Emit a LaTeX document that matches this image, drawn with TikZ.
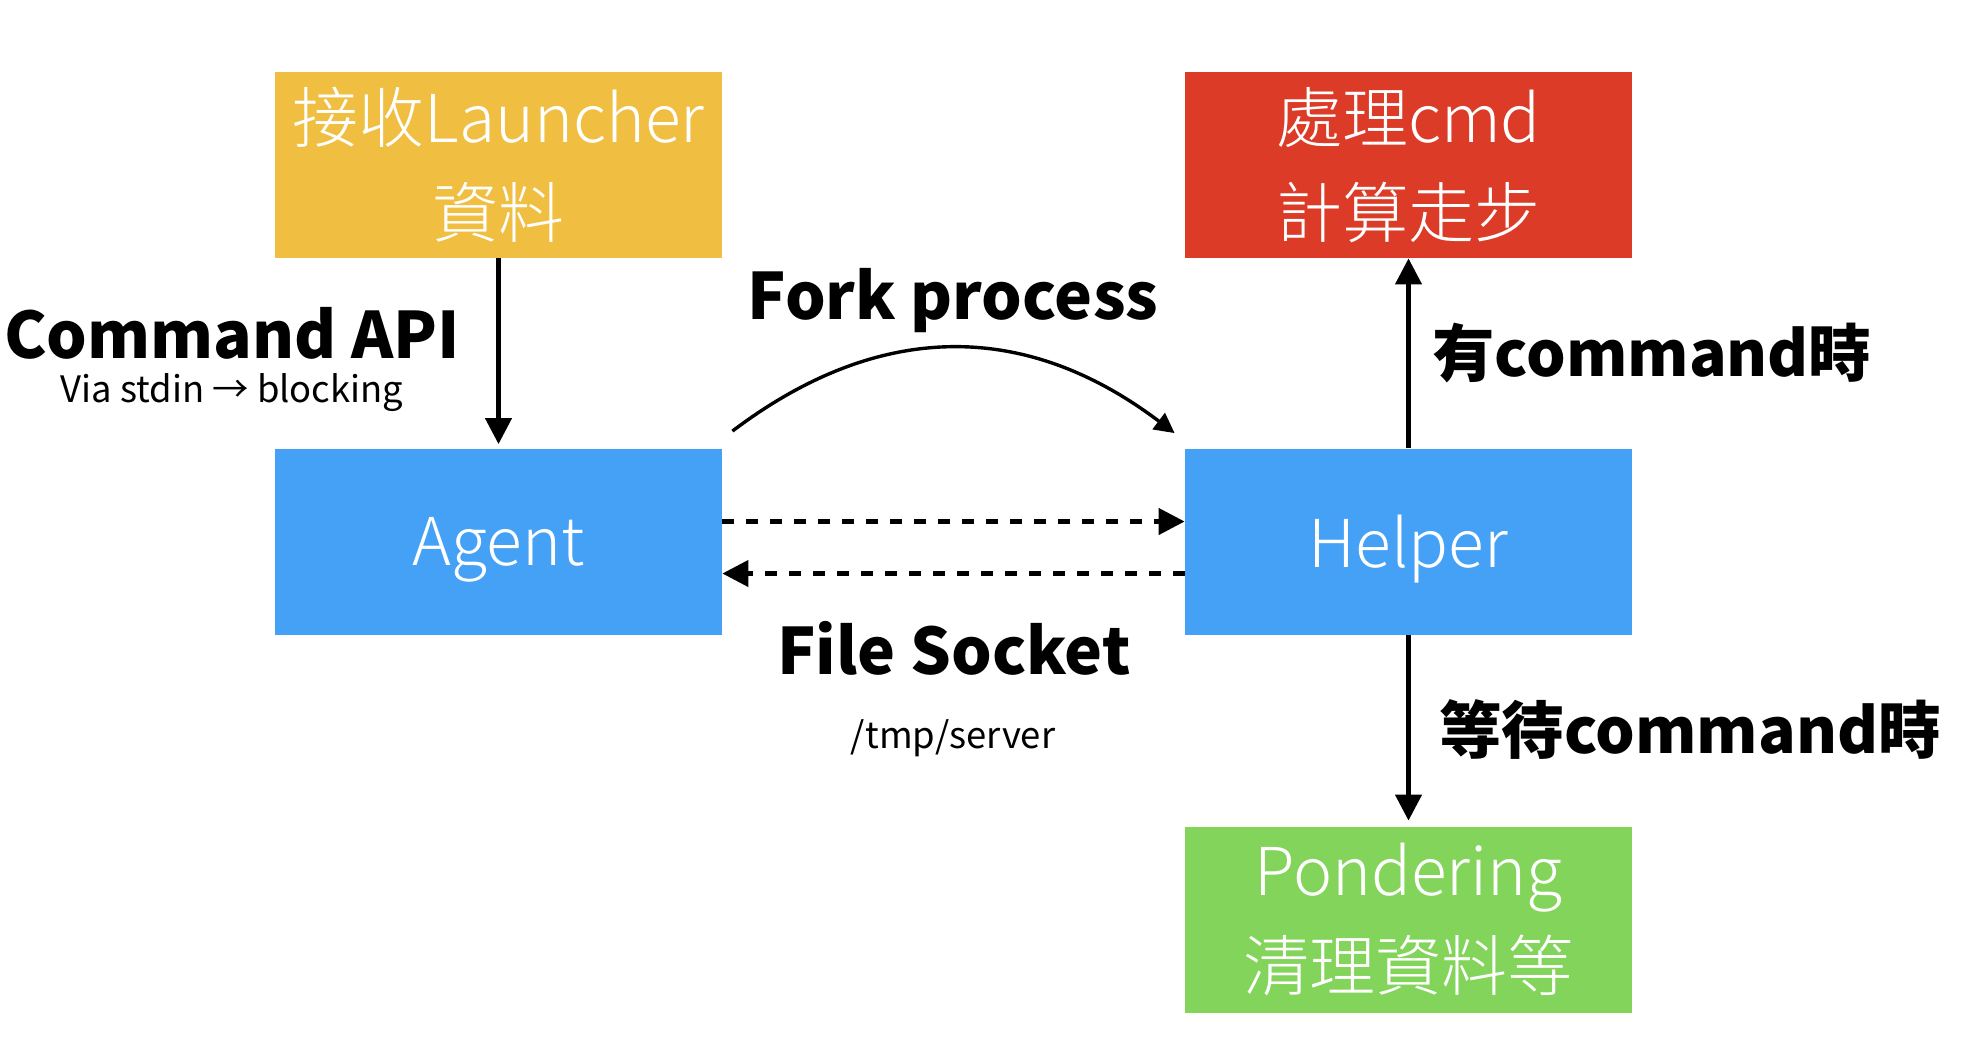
\documentclass[tikz,border=0pt]{standalone}
\usepackage{fontspec}
\setmainfont{Noto Sans CJK TC}
\newfontfamily\boxfont{Noto Sans CJK TC Light}
\usetikzlibrary{arrows.meta}
\definecolor{launcherYellow}{HTML}{F0BE41}
\definecolor{cmdRed}{HTML}{DB3B27}
\definecolor{agentBlue}{HTML}{45A1F5}
\definecolor{ponderGreen}{HTML}{83D45A}

\begin{document}
\begin{tikzpicture}[x=0.5pt,y=-0.5pt,
  proc/.style={minimum width=223.5pt,minimum height=93pt,inner sep=0pt,text=white,
    align=center,font=\boxfont\fontsize{33}{47.5}\selectfont},
  lbl/.style={font=\bfseries\fontsize{32}{38}\selectfont,inner sep=0pt},
  sublbl/.style={font=\fontsize{18.2}{22}\selectfont,inner sep=0pt},
  link/.style={line width=2.2pt,-{Triangle[length=13pt,width=13pt]}},
  sock/.style={link,dash pattern=on 6pt off 6pt}]
  \useasboundingbox (0,0) rectangle (1970,1062);
  % boxes
  \node[proc,fill=launcherYellow] (launcher) at (498.5,165) {接收Launcher\\資料};
  \node[proc,fill=cmdRed] (cmd) at (1408.5,165) {處理cmd\\計算走步};
  \node[proc,fill=agentBlue,text depth=0pt] (agent) at (498.5,541.5) {Agent};
  \node[proc,fill=agentBlue,text depth=0pt] (helper) at (1408.5,541.5) {Helper};
  \node[proc,fill=ponderGreen] (ponder) at (1408.5,920) {Pondering\\清理資料等};
  % labels
  \node[lbl] (api) at (232,333) {Command API};
  \node[sublbl] (via) at (232,393) {Via stdin → blocking};
  \node[lbl] (fork) at (953,301) {Fork process};
  \node[lbl] (socket) at (954,648) {File Socket};
  \node[sublbl] (path) at (953,738) {/tmp/server};
  \node[lbl,font=\bfseries\fontsize{31.2}{38}\selectfont,anchor=west] (has) at (1432,353) {有command時};
  \node[lbl,font=\bfseries\fontsize{31.2}{38}\selectfont,anchor=west] (wait) at (1439,729) {等待command時};
  % arrows
  \draw[link,shorten >=2pt] (launcher) -- (agent);
  \draw[link] (helper) -- (cmd);
  \draw[link,shorten >=3pt] (helper) -- (ponder);
  \draw[sock] ([yshift=10pt]agent.east) -- ([yshift=10pt]helper.west);
  \draw[sock] ([yshift=-16pt]helper.west) -- ([yshift=-16pt]agent.east);
  \draw[line width=1.7pt,-{Triangle[length=10pt,width=10pt]}]
    ([shift={(10,-17)}]agent.north east) .. controls +(148,-112) and +(-148,-112)
    .. ([shift={(-10,-15)}]helper.north west);
\end{tikzpicture}
\end{document}
